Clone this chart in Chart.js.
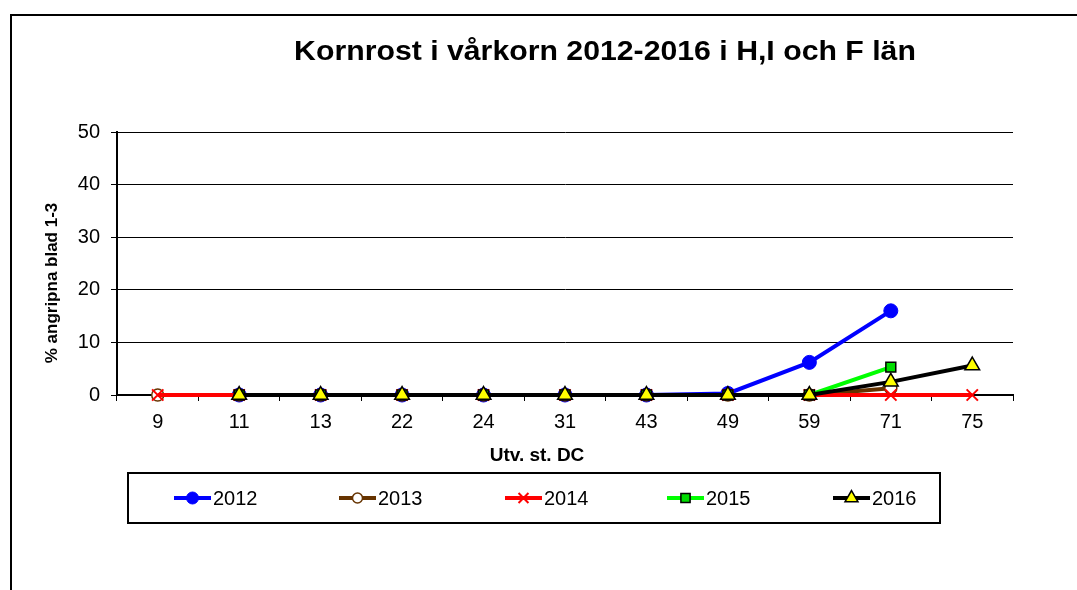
<!DOCTYPE html>
<html>
<head>
<meta charset="utf-8">
<script src="https://cdn.jsdelivr.net/npm/chart.js@4/dist/chart.umd.min.js"></script>
<style>
html,body{margin:0;padding:0;background:#fff;}
#wrap{width:1077px;height:590px;}
</style>
</head>
<body>
<div id="wrap"><canvas id="c" width="1077" height="590"></canvas></div>
<script>
const chartTitle = 'Kornrost i vårkorn 2012-2016 i H,I och F län';
const xTitle = 'Utv. st. DC';
const yTitle = '% angripna blad 1-3';
const categories = ['9','11','13','22','24','31','43','49','59','71','75'];
const yTicks = [0,10,20,30,40,50];
const seriesNames = ['2012','2013','2014','2015','2016'];
const s2012 = [null,0,0,0,0,0,0,0.3,6.2,16.0,null];
const s2013 = [0,0,0,0,0,0,0,0,0,1.3,null];
const s2014 = [0,0,0,0,0,0,0,0,0,0,0];
const s2015 = [null,0,0,0,0,0,0,0,0,5.3,null];
const s2016 = [null,0,0,0,0,0,0,0,0,2.5,5.6];

const FONT = "'Liberation Sans', Arial, sans-serif";

const styles = [
  {line:'#0000FF', fill:'#0000FF', stroke:'#0000FF', pointStyle:'circle', radius:7, bw:1, lr:6},
  {line:'#663300', fill:'#FFFFFF', stroke:'#663300', pointStyle:'circle', radius:6, bw:1.5, lr:5},
  {line:'#FF0000', fill:'#FF0000', stroke:'#FF0000', pointStyle:'crossRot', radius:8, bw:2, lr:7},
  {line:'#00FF00', fill:'#00DD00', stroke:'#000000', pointStyle:'rect', radius:7, bw:1.5, lr:6.5},
  {line:'#000000', fill:'#FFFF00', stroke:'#000000', pointStyle:'triangle', radius:8.5, bw:1.5, lr:7.5}
];
const seriesData = [s2012,s2013,s2014,s2015,s2016];

const datasets = seriesData.map((d,i)=>({
  label: seriesNames[i],
  data: d,
  borderColor: styles[i].line,
  backgroundColor: styles[i].fill,
  borderWidth: 4,
  pointStyle: styles[i].pointStyle,
  pointRadius: styles[i].radius,
  pointHoverRadius: styles[i].radius,
  pointBackgroundColor: styles[i].fill,
  pointBorderColor: styles[i].stroke,
  pointBorderWidth: styles[i].bw,
  tension: 0,
  spanGaps: false,
  clip: false,
  order: 5 - i
}));

const deco = {
  id: 'deco',
  beforeDraw(chart) {
    const ctx = chart.ctx;
    ctx.save();
    ctx.fillStyle = '#fff';
    ctx.fillRect(0,0,chart.width,chart.height);
    ctx.strokeStyle = '#000';
    ctx.lineWidth = 2;
    ctx.beginPath();
    ctx.moveTo(11, 600);
    ctx.lineTo(11, 15);
    ctx.lineTo(1090, 15);
    ctx.stroke();
    ctx.restore();
  },
  afterDraw(chart) {
    const ctx = chart.ctx;
    ctx.save();
    ctx.fillStyle = '#000';
    ctx.textAlign = 'center';
    ctx.textBaseline = 'middle';
    ctx.save();
    ctx.translate(605, 53);
    ctx.scale(1.12, 1);
    ctx.font = 'bold 27px ' + FONT;
    ctx.fillText(chartTitle, 0, 0);
    ctx.restore();
    ctx.font = 'bold 19px ' + FONT;
    ctx.fillText(xTitle, 537, 456);
    ctx.save();
    ctx.translate(52, 283);
    ctx.rotate(-Math.PI/2);
    ctx.font = 'bold 17px ' + FONT;
    ctx.fillText(yTitle, 0, 0);
    ctx.restore();

    // legend box
    ctx.strokeStyle = '#000';
    ctx.lineWidth = 2;
    ctx.strokeRect(128, 473, 812, 50);
    const lx = [174, 339, 505, 667, 833];
    const ly = 498;
    ctx.font = '20px ' + FONT;
    ctx.textAlign = 'left';
    chart.data.datasets.forEach((ds, i) => {
      const s = styles[i];
      ctx.strokeStyle = s.line;
      ctx.lineWidth = 4;
      ctx.beginPath();
      ctx.moveTo(lx[i], ly);
      ctx.lineTo(lx[i] + 37, ly);
      ctx.stroke();
      ctx.fillStyle = s.fill;
      ctx.strokeStyle = s.stroke;
      ctx.lineWidth = s.bw;
      Chart.helpers.drawPoint(ctx, {pointStyle: s.pointStyle, radius: s.lr, rotation: 0, borderWidth: s.bw}, lx[i] + 18.5, ly);
      ctx.fillStyle = '#000';
      ctx.fillText(ds.label, lx[i] + 39, ly + 1);
    });
    ctx.restore();
  }
};

new Chart(document.getElementById('c'), {
  type: 'line',
  data: { labels: categories, datasets },
  options: {
    responsive: false,
    animation: false,
    events: [],
    layout: { padding: { left: 0, top: 132, right: 64, bottom: 155 } },
    plugins: { legend: { display: false }, title: { display: false }, tooltip: { enabled: false } },
    scales: {
      x: {
        type: 'category',
        offset: true,
        afterFit(scale) { scale.height = 40; },
        grid: { display: true, drawOnChartArea: false, drawTicks: true, tickLength: 6, offset: true, color: '#000', lineWidth: 1 },
        border: { display: true, color: '#000', width: 2 },
        ticks: { color: '#000', font: { family: FONT, size: 20 }, padding: 9, maxRotation: 0, autoSkip: false }
      },
      y: {
        min: 0, max: 50,
        afterFit(scale) { scale.width = 117; },
        afterBuildTicks(scale) { scale.ticks = yTicks.map(v => ({ value: v })); },
        grid: { display: true, drawTicks: true, tickLength: 6, color: '#000', lineWidth: 1 },
        border: { display: true, color: '#000', width: 2 },
        ticks: { color: '#000', font: { family: FONT, size: 20 }, padding: 11 }
      }
    }
  },
  plugins: [deco]
});
</script>
</body>
</html>
